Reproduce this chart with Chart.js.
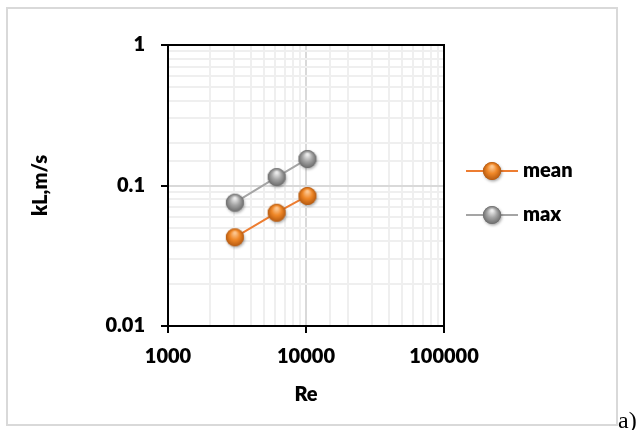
<!DOCTYPE html>
<html>
<head>
<meta charset="utf-8">
<script src="https://cdn.jsdelivr.net/npm/chart.js@4.4.1/dist/chart.umd.min.js"></script>
<style>
  html, body { margin: 0; padding: 0; background: #fff; }
  #wrap { position: relative; width: 643px; height: 430px; overflow: hidden; }
  #frame { position: absolute; left: 6px; top: 7px; width: 612px; height: 419px; box-sizing: border-box; border: 2px solid #d9d9d9; }
  #chart { position: absolute; left: 0; top: 0; }
  #tag { position: absolute; left: 618px; top: 408px; font: 24px 'Liberation Serif', serif; color: #000; line-height: 24px; }
</style>
</head>
<body>
<div id="wrap">
  <div id="frame"></div>
  <canvas id="chart" width="643" height="430"></canvas>
  <div id="tag">a)</div>
</div>
<script>
  // values
  const reynolds = [3050, 6130, 10240];
  const meanKL = [0.0428, 0.0640, 0.0842];
  const maxKL = [0.0755, 0.1149, 0.1545];
  const seriesNames = ['mean', 'max'];
  const xTickLabels = [1000, 10000, 100000];
  const yTickLabels = [0.01, 0.1, 1];

  const axisFont = { family: 'Lato', size: 20, weight: '800' };

  // returns the listed decade value a tick sits on, or null
  function decadeOf(v, list) {
    const hit = list.find(t => Math.abs(v - t) / t < 1e-6);
    return hit === undefined ? null : hit;
  }

  // small shaded sphere used as the marker
  function makeBall(light, base, dark) {
    const size = 26, r = 9;
    const c = document.createElement('canvas');
    c.width = size; c.height = size;
    const g = c.getContext('2d');
    const cx = size / 2, cy = size / 2;
    g.save();
    g.shadowColor = 'rgba(0,0,0,0.35)';
    g.shadowBlur = 3;
    g.shadowOffsetX = 1;
    g.shadowOffsetY = 1.5;
    g.beginPath(); g.arc(cx, cy, r, 0, Math.PI * 2);
    g.fillStyle = dark; g.fill();
    g.restore();
    const grad = g.createRadialGradient(cx, cy - r * 0.5, r * 0.1, cx, cy, r);
    grad.addColorStop(0, light);
    grad.addColorStop(0.5, base);
    grad.addColorStop(1, dark);
    g.beginPath(); g.arc(cx, cy, r, 0, Math.PI * 2);
    g.fillStyle = grad; g.fill();
    return c;
  }

  const orangeBall = makeBall('#fcc690', '#ef8727', '#b65a10');
  const grayBall = makeBall('#ececec', '#a4a4a4', '#6c6c6c');

  function gridColor(list) {
    return c => decadeOf(c.tick.value, list) !== null ? '#d9d9d9' : '#efefef';
  }
  function tickColor(list) {
    return c => decadeOf(c.tick.value, list) !== null ? '#000' : 'rgba(0,0,0,0)';
  }
  function tickLabel(list) {
    return v => {
      const d = decadeOf(v, list);
      return d === null ? '' : String(d);
    };
  }

  // black frame round the plot area
  const plotFrame = {
    id: 'plotFrame',
    afterDatasetsDraw(chart) {
      const { ctx, chartArea: a } = chart;
      ctx.save();
      ctx.strokeStyle = '#000';
      ctx.lineWidth = 2;
      ctx.strokeRect(a.left, a.top, a.right - a.left, a.bottom - a.top);
      ctx.restore();
    }
  };

  // legend on the right: line + marker + name
  const sideLegend = {
    id: 'sideLegend',
    afterDraw(chart) {
      const { ctx, chartArea: a } = chart;
      chart.data.datasets.forEach((ds, i) => {
        const y = a.top + 126 + i * 44;
        const x0 = a.right + 22;
        ctx.save();
        ctx.strokeStyle = ds.borderColor;
        ctx.lineWidth = 2;
        ctx.beginPath(); ctx.moveTo(x0, y); ctx.lineTo(x0 + 52, y); ctx.stroke();
        const img = ds.pointStyle;
        ctx.drawImage(img, x0 + 26 - img.width / 2, y - img.height / 2);
        ctx.fillStyle = '#000';
        ctx.font = '800 20px Lato';
        ctx.textBaseline = 'middle';
        ctx.fillText(ds.label, x0 + 57, y);
        ctx.restore();
      });
    }
  };

  new Chart(document.getElementById('chart').getContext('2d'), {
    type: 'scatter',
    data: {
      datasets: [
        {
          label: seriesNames[0],
          data: reynolds.map((x, i) => ({ x: x, y: meanKL[i] })),
          showLine: true,
          borderColor: '#ed7d31',
          borderWidth: 2,
          pointStyle: orangeBall,
          pointRadius: 9
        },
        {
          label: seriesNames[1],
          data: reynolds.map((x, i) => ({ x: x, y: maxKL[i] })),
          showLine: true,
          borderColor: '#a5a5a5',
          borderWidth: 2,
          pointStyle: grayBall,
          pointRadius: 9
        }
      ]
    },
    options: {
      responsive: false,
      animation: false,
      layout: { padding: { left: 20, top: 45, right: 199, bottom: 20 } },
      plugins: {
        legend: { display: false },
        tooltip: { enabled: false }
      },
      scales: {
        x: {
          type: 'logarithmic',
          position: 'bottom',
          min: 1000,
          max: 100000,
          border: { color: '#000', width: 2 },
          grid: {
            color: gridColor(xTickLabels),
            lineWidth: 2,
            tickLength: 7,
            tickWidth: 2,
            tickColor: tickColor(xTickLabels)
          },
          ticks: {
            autoSkip: false,
            maxRotation: 0,
            color: '#000',
            font: axisFont,
            padding: 12,
            callback: tickLabel(xTickLabels)
          },
          title: { display: true, text: 'Re', color: '#000', font: axisFont, padding: { top: 0, bottom: 3 } },
          afterFit: s => { s.height = 84; }
        },
        y: {
          type: 'logarithmic',
          position: 'left',
          min: 0.01,
          max: 1,
          border: { color: '#000', width: 2 },
          grid: {
            color: gridColor(yTickLabels),
            lineWidth: 2,
            tickLength: 7,
            tickWidth: 2,
            tickColor: tickColor(yTickLabels)
          },
          ticks: {
            autoSkip: false,
            color: '#000',
            font: axisFont,
            padding: 16,
            callback: tickLabel(yTickLabels)
          },
          title: { display: true, text: 'kL,m/s', color: '#000', font: axisFont, padding: { top: 9, bottom: 0 } },
          afterFit: s => { s.width = 148; }
        }
      }
    },
    plugins: [plotFrame, sideLegend]
  });
</script>
</body>
</html>
